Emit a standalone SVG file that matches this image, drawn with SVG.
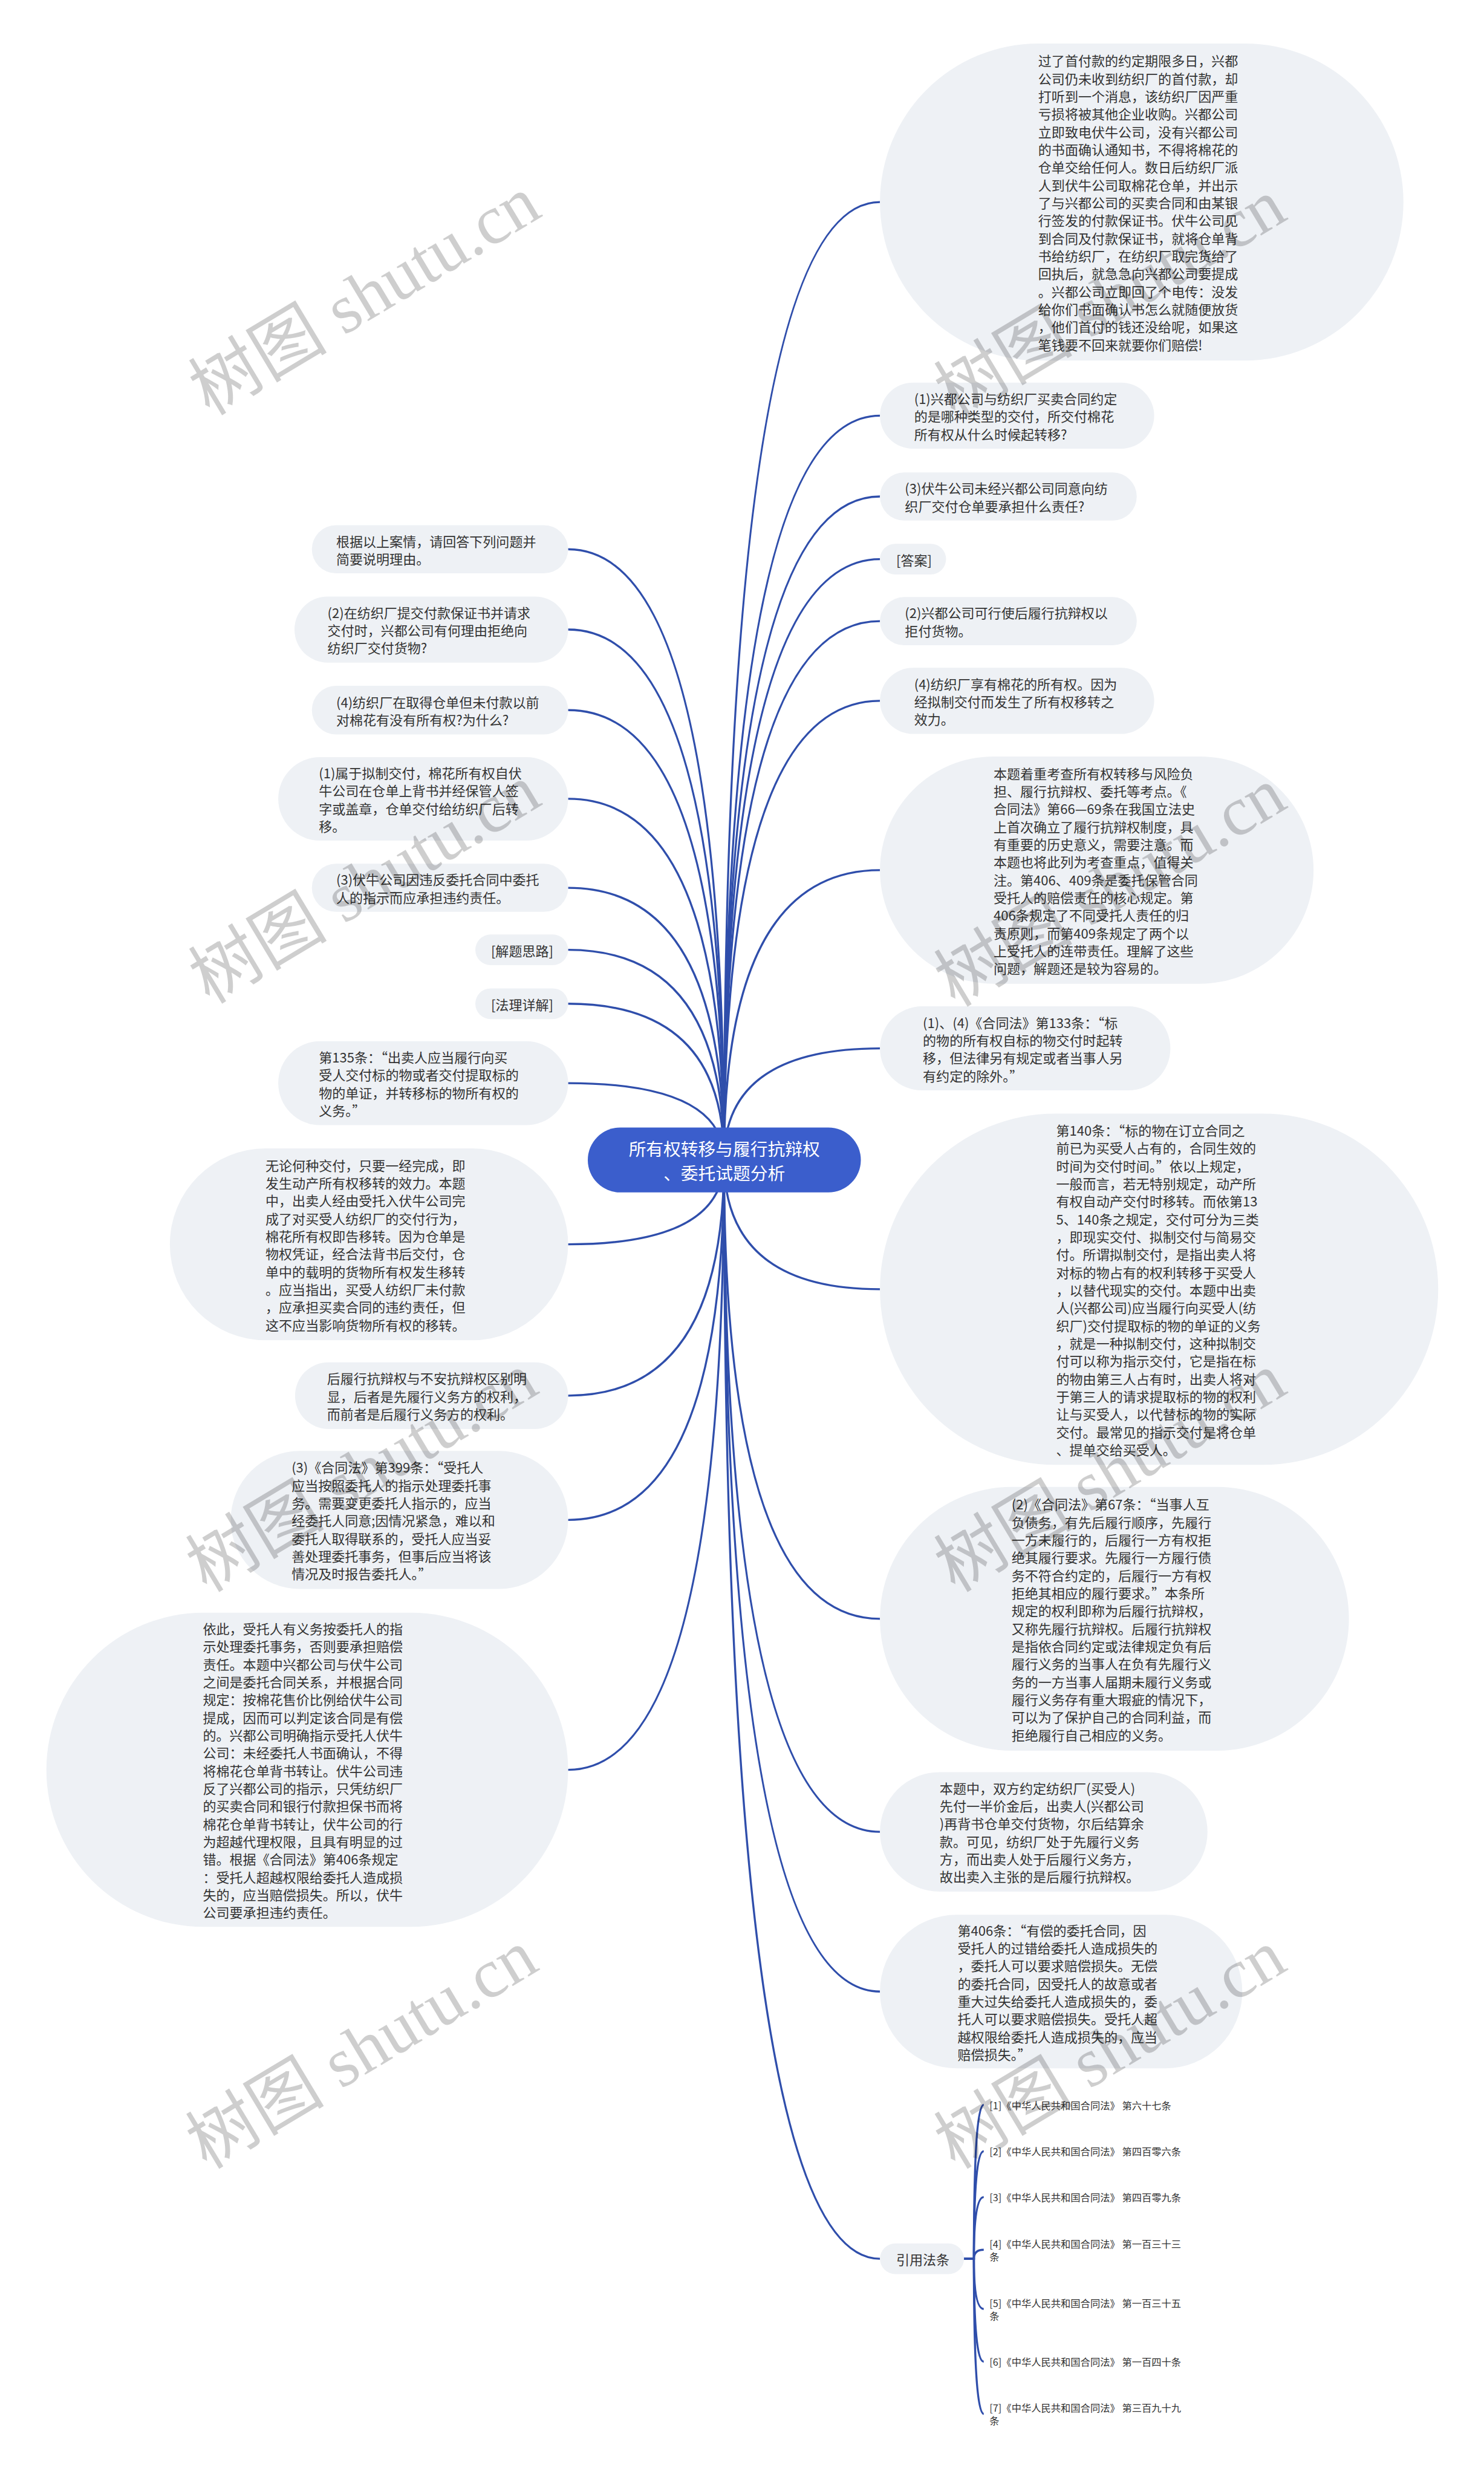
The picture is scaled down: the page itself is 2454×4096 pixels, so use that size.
<svg xmlns="http://www.w3.org/2000/svg" width="2454" height="4096" viewBox="0 0 2454 4096">
<style>
.n{fill:#eef1f5}
.t{font-family:"Noto Sans CJK SC","Noto Sans",sans-serif;font-size:23px;fill:#333;dominant-baseline:central}
.c{font-family:"Noto Sans CJK SC","Noto Sans",sans-serif;font-size:17px;fill:#333;dominant-baseline:central}
.ct{font-family:"Noto Sans CJK SC","Noto Sans",sans-serif;font-size:30px;fill:#fff;dominant-baseline:central;text-anchor:middle}
.e{fill:none;stroke:#2f4eab;stroke-width:3.5}
.w{font-family:"Liberation Serif","Noto Sans CJK SC",serif;font-size:120px;fill:#000;opacity:0.19;text-anchor:middle}
</style>
<rect width="2454" height="4096" fill="#fff"/>
<g transform="scale(0.95859)">
<g id="connectors">
<path class="e" d="M1249 2001 Q1249 348.5 1518 348.5"/>
<path class="e" d="M1249 2001 Q1249 717 1518 717"/>
<path class="e" d="M1249 2001 Q1249 856.5 1518 856.5"/>
<path class="e" d="M1249 2001 Q1249 964.5 1518 964.5"/>
<path class="e" d="M1249 2001 Q1249 1071.5 1518 1071.5"/>
<path class="e" d="M1249 2001 Q1249 1209 1518 1209"/>
<path class="e" d="M1249 2001 Q1249 1501 1518 1501"/>
<path class="e" d="M1249 2001 Q1249 1808.5 1518 1808.5"/>
<path class="e" d="M1249 2001 Q1249 2224 1518 2224"/>
<path class="e" d="M1249 2001 Q1249 2792.5 1518 2792.5"/>
<path class="e" d="M1249 2001 Q1249 3160 1518 3160"/>
<path class="e" d="M1249 2001 Q1249 3435.5 1518 3435.5"/>
<path class="e" d="M1249 2001 Q1249 3896.5 1518 3896.5"/>
<path class="e" d="M1249 2001 Q1249 947.5 980 947.5"/>
<path class="e" d="M1249 2001 Q1249 1086 980 1086"/>
<path class="e" d="M1249 2001 Q1249 1225 980 1225"/>
<path class="e" d="M1249 2001 Q1249 1378 980 1378"/>
<path class="e" d="M1249 2001 Q1249 1531.5 980 1531.5"/>
<path class="e" d="M1249 2001 Q1249 1638.5 980 1638.5"/>
<path class="e" d="M1249 2001 Q1249 1731.5 980 1731.5"/>
<path class="e" d="M1249 2001 Q1249 1868.5 980 1868.5"/>
<path class="e" d="M1249 2001 Q1249 2146.5 980 2146.5"/>
<path class="e" d="M1249 2001 Q1249 2407.5 980 2407.5"/>
<path class="e" d="M1249 2001 Q1249 2622 980 2622"/>
<path class="e" d="M1249 2001 Q1249 3053 980 3053"/>
<path class="e" d="M1663 3896.5 H1680 Q1680 3631 1697 3631"/>
<path class="e" d="M1663 3896.5 H1680 Q1680 3711 1697 3711"/>
<path class="e" d="M1663 3896.5 H1680 Q1680 3790 1697 3790"/>
<path class="e" d="M1663 3896.5 H1680 Q1680 3881 1697 3881"/>
<path class="e" d="M1663 3896.5 H1680 Q1680 3983 1697 3983"/>
<path class="e" d="M1663 3896.5 H1680 Q1680 4074 1697 4074"/>
<path class="e" d="M1663 3896.5 H1680 Q1680 4164 1697 4164"/>
</g>
<g id="center">
<rect x="1014" y="1945" width="471" height="112" rx="56" fill="#3b5ecc"/>
<text class="ct"><tspan x="1249.5" y="1980">所有权转移与履行抗辩权</tspan><tspan x="1249.5" y="2022">、委托试题分析</tspan></text>
</g>
<g id="r1"><rect class="n" x="1518" y="75" width="903" height="547" rx="273.5"/>
<text class="t" x="1791" y="103.7"><tspan x="1791">过了首付款的约定期限多日，兴都</tspan><tspan x="1791" dy="30.6">公司仍未收到纺织厂的首付款，却</tspan><tspan x="1791" dy="30.6">打听到一个消息，该纺织厂因严重</tspan><tspan x="1791" dy="30.6">亏损将被其他企业收购。兴都公司</tspan><tspan x="1791" dy="30.6">立即致电伏牛公司，没有兴都公司</tspan><tspan x="1791" dy="30.6">的书面确认通知书，不得将棉花的</tspan><tspan x="1791" dy="30.6">仓单交给任何人。数日后纺织厂派</tspan><tspan x="1791" dy="30.6">人到伏牛公司取棉花仓单，并出示</tspan><tspan x="1791" dy="30.6">了与兴都公司的买卖合同和由某银</tspan><tspan x="1791" dy="30.6">行签发的付款保证书。伏牛公司见</tspan><tspan x="1791" dy="30.6">到合同及付款保证书，就将仓单背</tspan><tspan x="1791" dy="30.6">书给纺织厂，在纺织厂取完货给了</tspan><tspan x="1791" dy="30.6">回执后，就急急向兴都公司要提成</tspan><tspan x="1791" dy="30.6">。兴都公司立即回了个电传：没发</tspan><tspan x="1791" dy="30.6">给你们书面确认书怎么就随便放货</tspan><tspan x="1791" dy="30.6">，他们首付的钱还没给呢，如果这</tspan><tspan x="1791" dy="30.6">笔钱要不回来就要你们赔偿!</tspan></text></g>
<g id="r2"><rect class="n" x="1518" y="660" width="473" height="114" rx="57"/>
<text class="t" y="686.4"><tspan x="1577">(1)兴都公司与纺织厂买卖合同约定</tspan><tspan x="1577" dy="30.6">的是哪种类型的交付，所交付棉花</tspan><tspan x="1577" dy="30.6">所有权从什么时候起转移?</tspan></text></g>
<g id="r3"><rect class="n" x="1518" y="815" width="443" height="83" rx="41.5"/>
<text class="t" y="841.2"><tspan x="1561">(3)伏牛公司未经兴都公司同意向纺</tspan><tspan x="1561" dy="30.6">织厂交付仓单要承担什么责任?</tspan></text></g>
<g id="r4"><rect class="n" x="1518" y="938" width="114" height="53" rx="26.5"/>
<text class="t" x="1546" y="964.5">[答案]</text></g>
<g id="r5"><rect class="n" x="1518" y="1030" width="443" height="83" rx="41.5"/>
<text class="t" y="1056.2"><tspan x="1561">(2)兴都公司可行使后履行抗辩权以</tspan><tspan x="1561" dy="30.6">拒付货物。</tspan></text></g>
<g id="r6"><rect class="n" x="1518" y="1152" width="473" height="114" rx="57"/>
<text class="t" y="1178.4"><tspan x="1577">(4)纺织厂享有棉花的所有权。因为</tspan><tspan x="1577" dy="30.6">经拟制交付而发生了所有权移转之</tspan><tspan x="1577" dy="30.6">效力。</tspan></text></g>
<g id="r7"><rect class="n" x="1518" y="1305" width="748" height="392" rx="196"/>
<text class="t" y="1332.7"><tspan x="1714">本题着重考查所有权转移与风险负</tspan><tspan x="1714" dy="30.6">担、履行抗辩权、委托等考点。《</tspan><tspan x="1714" dy="30.6">合同法》第66—69条在我国立法史</tspan><tspan x="1714" dy="30.6">上首次确立了履行抗辩权制度，具</tspan><tspan x="1714" dy="30.6">有重要的历史意义，需要注意。而</tspan><tspan x="1714" dy="30.6">本题也将此列为考查重点，值得关</tspan><tspan x="1714" dy="30.6">注。第406、409条是委托保管合同</tspan><tspan x="1714" dy="30.6">受托人的赔偿责任的核心规定。第</tspan><tspan x="1714" dy="30.6">406条规定了不同受托人责任的归</tspan><tspan x="1714" dy="30.6">责原则，而第409条规定了两个以</tspan><tspan x="1714" dy="30.6">上受托人的连带责任。理解了这些</tspan><tspan x="1714" dy="30.6">问题，解题还是较为容易的。</tspan></text></g>
<g id="r8"><rect class="n" x="1518" y="1736" width="501" height="145" rx="72.5"/>
<text class="t" y="1762.6"><tspan x="1592">(1)、(4)《合同法》第133条：“标</tspan><tspan x="1592" dy="30.6">的物的所有权自标的物交付时起转</tspan><tspan x="1592" dy="30.6">移，但法律另有规定或者当事人另</tspan><tspan x="1592" dy="30.6">有约定的除外。”</tspan></text></g>
<g id="r9"><rect class="n" x="1518" y="1921" width="963" height="606" rx="303"/>
<text class="t" y="1948.6"><tspan x="1822">第140条：“标的物在订立合同之</tspan><tspan x="1822" dy="30.6">前已为买受人占有的，合同生效的</tspan><tspan x="1822" dy="30.6">时间为交付时间。”依以上规定，</tspan><tspan x="1822" dy="30.6">一般而言，若无特别规定，动产所</tspan><tspan x="1822" dy="30.6">有权自动产交付时移转。而依第13</tspan><tspan x="1822" dy="30.6">5、140条之规定，交付可分为三类</tspan><tspan x="1822" dy="30.6">，即现实交付、拟制交付与简易交</tspan><tspan x="1822" dy="30.6">付。所谓拟制交付，是指出卖人将</tspan><tspan x="1822" dy="30.6">对标的物占有的权利转移于买受人</tspan><tspan x="1822" dy="30.6">，以替代现实的交付。本题中出卖</tspan><tspan x="1822" dy="30.6">人(兴都公司)应当履行向买受人(纺</tspan><tspan x="1822" dy="30.6">织厂)交付提取标的物的单证的义务</tspan><tspan x="1822" dy="30.6">，就是一种拟制交付，这种拟制交</tspan><tspan x="1822" dy="30.6">付可以称为指示交付，它是指在标</tspan><tspan x="1822" dy="30.6">的物由第三人占有时，出卖人将对</tspan><tspan x="1822" dy="30.6">于第三人的请求提取标的物的权利</tspan><tspan x="1822" dy="30.6">让与买受人，以代替标的物的实际</tspan><tspan x="1822" dy="30.6">交付。最常见的指示交付是将仓单</tspan><tspan x="1822" dy="30.6">、提单交给买受人。</tspan></text></g>
<g id="r10"><rect class="n" x="1518" y="2565" width="809" height="455" rx="227.5"/>
<text class="t" y="2593.6"><tspan x="1745">(2)《合同法》第67条：“当事人互</tspan><tspan x="1745" dy="30.6">负债务，有先后履行顺序，先履行</tspan><tspan x="1745" dy="30.6">一方未履行的，后履行一方有权拒</tspan><tspan x="1745" dy="30.6">绝其履行要求。先履行一方履行债</tspan><tspan x="1745" dy="30.6">务不符合约定的，后履行一方有权</tspan><tspan x="1745" dy="30.6">拒绝其相应的履行要求。”本条所</tspan><tspan x="1745" dy="30.6">规定的权利即称为后履行抗辩权，</tspan><tspan x="1745" dy="30.6">又称先履行抗辩权。后履行抗辩权</tspan><tspan x="1745" dy="30.6">是指依合同约定或法律规定负有后</tspan><tspan x="1745" dy="30.6">履行义务的当事人在负有先履行义</tspan><tspan x="1745" dy="30.6">务的一方当事人届期未履行义务或</tspan><tspan x="1745" dy="30.6">履行义务存有重大瑕疵的情况下，</tspan><tspan x="1745" dy="30.6">可以为了保护自己的合同利益，而</tspan><tspan x="1745" dy="30.6">拒绝履行自己相应的义务。</tspan></text></g>
<g id="r11"><rect class="n" x="1518" y="3057" width="565" height="206" rx="103"/>
<text class="t" y="3083.5"><tspan x="1621">本题中，双方约定纺织厂(买受人)</tspan><tspan x="1621" dy="30.6">先付一半价金后，出卖人(兴都公司</tspan><tspan x="1621" dy="30.6">)再背书仓单交付货物，尔后结算余</tspan><tspan x="1621" dy="30.6">款。可见，纺织厂处于先履行义务</tspan><tspan x="1621" dy="30.6">方，而出卖人处于后履行义务方，</tspan><tspan x="1621" dy="30.6">故出卖入主张的是后履行抗辩权。</tspan></text></g>
<g id="r12"><rect class="n" x="1518" y="3303" width="625" height="265" rx="132.5"/>
<text class="t" y="3328.4"><tspan x="1652">第406条：“有偿的委托合同，因</tspan><tspan x="1652" dy="30.6">受托人的过错给委托人造成损失的</tspan><tspan x="1652" dy="30.6">，委托人可以要求赔偿损失。无偿</tspan><tspan x="1652" dy="30.6">的委托合同，因受托人的故意或者</tspan><tspan x="1652" dy="30.6">重大过失给委托人造成损失的，委</tspan><tspan x="1652" dy="30.6">托人可以要求赔偿损失。受托人超</tspan><tspan x="1652" dy="30.6">越权限给委托人造成损失的，应当</tspan><tspan x="1652" dy="30.6">赔偿损失。”</tspan></text></g>
<g id="r13"><rect class="n" x="1518" y="3870" width="145" height="53" rx="26.5"/>
<text class="t" x="1546" y="3896.5">引用法条</text></g>
<g id="cite1"><text class="c" x="1707" y="3631">[1]《中华人民共和国合同法》 第六十七条</text></g>
<g id="cite2"><text class="c" x="1707" y="3711">[2]《中华人民共和国合同法》 第四百零六条</text></g>
<g id="cite3"><text class="c" x="1707" y="3790">[3]《中华人民共和国合同法》 第四百零九条</text></g>
<g id="cite4"><text class="c" y="3870"><tspan x="1707">[4]《中华人民共和国合同法》 第一百三十三</tspan><tspan x="1707" dy="22">条</tspan></text></g>
<g id="cite5"><text class="c" y="3972"><tspan x="1707">[5]《中华人民共和国合同法》 第一百三十五</tspan><tspan x="1707" dy="22">条</tspan></text></g>
<g id="cite6"><text class="c" x="1707" y="4074">[6]《中华人民共和国合同法》 第一百四十条</text></g>
<g id="cite7"><text class="c" y="4153"><tspan x="1707">[7]《中华人民共和国合同法》 第三百九十九</tspan><tspan x="1707" dy="22">条</tspan></text></g>
<g id="l1"><rect class="n" x="538" y="906" width="442" height="83" rx="41.5"/>
<text class="t" y="932.2"><tspan x="580">根据以上案情，请回答下列问题并</tspan><tspan x="580" dy="30.6">简要说明理由。</tspan></text></g>
<g id="l2"><rect class="n" x="508" y="1029" width="472" height="114" rx="57"/>
<text class="t" y="1055.4"><tspan x="565">(2)在纺织厂提交付款保证书并请求</tspan><tspan x="565" dy="30.6">交付时，兴都公司有何理由拒绝向</tspan><tspan x="565" dy="30.6">纺织厂交付货物?</tspan></text></g>
<g id="l3"><rect class="n" x="538" y="1183" width="442" height="84" rx="42"/>
<text class="t" y="1209.7"><tspan x="580">(4)纺织厂在取得仓单但未付款以前</tspan><tspan x="580" dy="30.6">对棉花有没有所有权?为什么?</tspan></text></g>
<g id="l4"><rect class="n" x="480" y="1306" width="500" height="144" rx="72"/>
<text class="t" y="1332.1"><tspan x="550">(1)属于拟制交付，棉花所有权自伏</tspan><tspan x="550" dy="30.6">牛公司在仓单上背书并经保管人签</tspan><tspan x="550" dy="30.6">字或盖章，仓单交付给纺织厂后转</tspan><tspan x="550" dy="30.6">移。</tspan></text></g>
<g id="l5"><rect class="n" x="538" y="1490" width="442" height="83" rx="41.5"/>
<text class="t" y="1516.2"><tspan x="580">(3)伏牛公司因违反委托合同中委托</tspan><tspan x="580" dy="30.6">人的指示而应承担违约责任。</tspan></text></g>
<g id="l6"><rect class="n" x="820" y="1612" width="160" height="53" rx="26.5"/>
<text class="t" x="847" y="1638.5">[解题思路]</text></g>
<g id="l7"><rect class="n" x="820" y="1705" width="160" height="53" rx="26.5"/>
<text class="t" x="847" y="1731.5">[法理详解]</text></g>
<g id="l8"><rect class="n" x="480" y="1796" width="500" height="145" rx="72.5"/>
<text class="t" y="1822.6"><tspan x="550">第135条：“出卖人应当履行向买</tspan><tspan x="550" dy="30.6">受人交付标的物或者交付提取标的</tspan><tspan x="550" dy="30.6">物的单证，并转移标的物所有权的</tspan><tspan x="550" dy="30.6">义务。”</tspan></text></g>
<g id="l9"><rect class="n" x="293" y="1981" width="687" height="331" rx="165.5"/>
<text class="t" y="2008.8"><tspan x="458">无论何种交付，只要一经完成，即</tspan><tspan x="458" dy="30.6">发生动产所有权移转的效力。本题</tspan><tspan x="458" dy="30.6">中，出卖人经由受托入伏牛公司完</tspan><tspan x="458" dy="30.6">成了对买受人纺织厂的交付行为，</tspan><tspan x="458" dy="30.6">棉花所有权即告移转。因为仓单是</tspan><tspan x="458" dy="30.6">物权凭证，经合法背书后交付，仓</tspan><tspan x="458" dy="30.6">单中的载明的货物所有权发生移转</tspan><tspan x="458" dy="30.6">。应当指出，买受人纺织厂未付款</tspan><tspan x="458" dy="30.6">，应承担买卖合同的违约责任，但</tspan><tspan x="458" dy="30.6">这不应当影响货物所有权的移转。</tspan></text></g>
<g id="l10"><rect class="n" x="509" y="2350" width="471" height="115" rx="57.5"/>
<text class="t" y="2376.9"><tspan x="564">后履行抗辩权与不安抗辩权区别明</tspan><tspan x="564" dy="30.6">显，后者是先履行义务方的权利，</tspan><tspan x="564" dy="30.6">而前者是后履行义务方的权利。</tspan></text></g>
<g id="l11"><rect class="n" x="398" y="2503" width="582" height="238" rx="119"/>
<text class="t" y="2530.2"><tspan x="503">(3)《合同法》第399条：“受托人</tspan><tspan x="503" dy="30.6">应当按照委托人的指示处理委托事</tspan><tspan x="503" dy="30.6">务。需要变更委托人指示的，应当</tspan><tspan x="503" dy="30.6">经委托人同意;因情况紧急，难以和</tspan><tspan x="503" dy="30.6">委托人取得联系的，受托人应当妥</tspan><tspan x="503" dy="30.6">善处理委托事务，但事后应当将该</tspan><tspan x="503" dy="30.6">情况及时报告委托人。”</tspan></text></g>
<g id="l12"><rect class="n" x="80" y="2782" width="900" height="542" rx="271"/>
<text class="t" y="2808.2"><tspan x="350">依此，受托人有义务按委托人的指</tspan><tspan x="350" dy="30.6">示处理委托事务，否则要承担赔偿</tspan><tspan x="350" dy="30.6">责任。本题中兴都公司与伏牛公司</tspan><tspan x="350" dy="30.6">之间是委托合同关系，并根据合同</tspan><tspan x="350" dy="30.6">规定：按棉花售价比例给伏牛公司</tspan><tspan x="350" dy="30.6">提成，因而可以判定该合同是有偿</tspan><tspan x="350" dy="30.6">的。兴都公司明确指示受托人伏牛</tspan><tspan x="350" dy="30.6">公司：未经委托人书面确认，不得</tspan><tspan x="350" dy="30.6">将棉花仓单背书转让。伏牛公司违</tspan><tspan x="350" dy="30.6">反了兴都公司的指示，只凭纺织厂</tspan><tspan x="350" dy="30.6">的买卖合同和银行付款担保书而将</tspan><tspan x="350" dy="30.6">棉花仓单背书转让，伏牛公司的行</tspan><tspan x="350" dy="30.6">为超越代理权限，且具有明显的过</tspan><tspan x="350" dy="30.6">错。根据《合同法》第406条规定</tspan><tspan x="350" dy="30.6">：受托人超越权限给委托人造成损</tspan><tspan x="350" dy="30.6">失的，应当赔偿损失。所以，伏牛</tspan><tspan x="350" dy="30.6">公司要承担违约责任。</tspan></text></g>
<g id="watermarks">
<text class="w" transform="translate(650 545) rotate(-31)">树图 shutu.cn</text>
<text class="w" transform="translate(1936 550) rotate(-31)">树图 shutu.cn</text>
<text class="w" transform="translate(650 1560) rotate(-31)">树图 shutu.cn</text>
<text class="w" transform="translate(1936 1565) rotate(-31)">树图 shutu.cn</text>
<text class="w" transform="translate(645 2575) rotate(-31)">树图 shutu.cn</text>
<text class="w" transform="translate(1936 2575) rotate(-31)">树图 shutu.cn</text>
<text class="w" transform="translate(645 3570) rotate(-31)">树图 shutu.cn</text>
<text class="w" transform="translate(1936 3570) rotate(-31)">树图 shutu.cn</text>
</g>
</g>
</svg>
